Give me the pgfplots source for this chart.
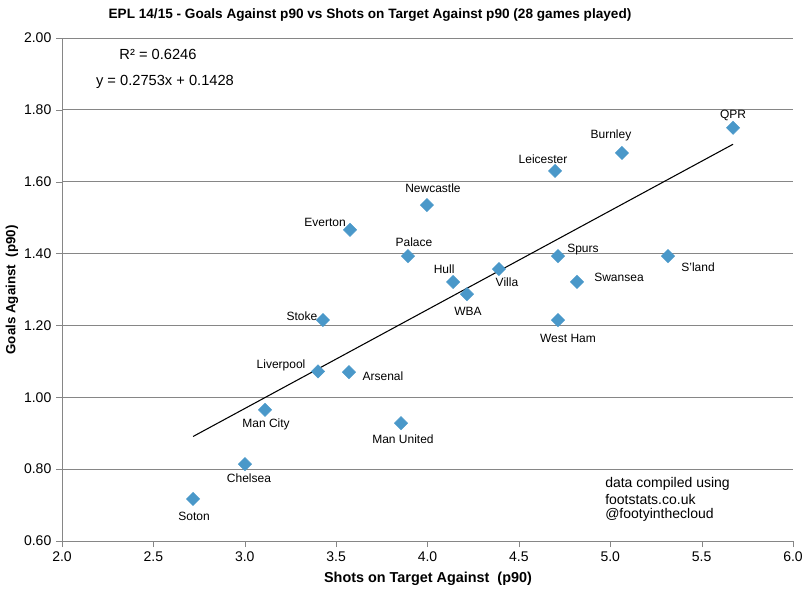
\documentclass[border=0pt]{standalone}
\usepackage{pgfplots}
\pgfplotsset{compat=1.18}
\usepackage{pgfplotstable}
\usepackage{fontspec}
\setmainfont{Liberation Sans}
\definecolor{mk}{RGB}{74,152,201}
\definecolor{gridc}{RGB}{134,134,134}

\pgfplotstableread[col sep=comma]{
x,y,label,dx,dy
5.672,1.750,QPR,0,9
5.064,1.680,Burnley,-8.25,13.5
4.698,1.630,Leicester,-9,9
3.997,1.535,Newcastle,4.5,12.75
3.576,1.466,Everton,-18.75,5.25
3.893,1.393,Palace,4.5,10.5
4.714,1.393,Spurs,18.75,5.25
5.316,1.393,S'land,22.5,-8.25
4.391,1.357,Villa,6,-9.75
4.140,1.321,Hull,-6.75,9.75
4.818,1.321,Swansea,31.5,3.75
4.216,1.287,WBA,0.75,-12.75
3.428,1.215,Stoke,-15.75,3
4.714,1.215,West Ham,7.5,-13.5
3.401,1.072,Liverpool,-27.75,4.5
3.570,1.070,Arsenal,25.5,-3
3.111,0.965,Man City,0.75,-11.25
3.855,0.928,Man United,1.5,-12
3.001,0.814,Chelsea,3,-10.5
2.717,0.717,Soton,0.75,-12.75
}\teams

\begin{document}
\begin{tikzpicture}
\useasboundingbox (0,0) rectangle (609pt,446.25pt);
\begin{axis}[
  at={(46.5pt,40.5pt)}, anchor=south west,
  scale only axis, width=548.25pt, height=377.25pt,
  xmin=2, xmax=6, ymin=0.6, ymax=2.0,
  xtick={2,2.5,...,6}, ytick={0.6,0.8,...,2.01},
  axis lines*=left,
  axis line style={-, draw=gridc},
  tick style={draw=gridc},
  tick align=outside, major tick length=4.5pt,
  ymajorgrids, grid style={draw=gridc, line width=0.6pt},
  xticklabel style={/pgf/number format/.cd, fixed, fixed zerofill, precision=1},
  yticklabel style={/pgf/number format/.cd, fixed, fixed zerofill, precision=2},
  /pgf/number format/assume math mode=true,
  tick label style={font=\fontsize{10.5}{12}\selectfont},
  clip=false,
]
\addplot[
  only marks, mark=square*, mark size=3.5pt,
  mark options={rotate=45, fill=mk, draw=mk},
  point meta=explicit symbolic,
  visualization depends on={\thisrow{dx}\as\dx},
  visualization depends on={\thisrow{dy}\as\dy},
  nodes near coords,
  nodes near coords style={anchor=center, xshift=\dx pt, yshift=\dy pt,
     font=\fontsize{9}{10}\selectfont, text=black, inner sep=0pt},
] table[x=x, y=y, meta=label] {\teams};
\addplot[black, line width=0.8pt, no marks] coordinates {(2.717,0.8908) (5.672,1.7043)};
\end{axis}
\node[font=\bfseries\fontsize{10.2}{12}\selectfont] at (277.5pt,435pt) {EPL 14/15 - Goals Against p90 vs Shots on Target Against p90 (28 games played)};
\node[font=\fontsize{11}{13}\selectfont] at (118.5pt,405.75pt) {R² = 0.6246};
\node[font=\fontsize{11}{13}\selectfont] at (123.75pt,384.75pt) {y = 0.2753x + 0.1428};
\node[font=\fontsize{10.5}{12}\selectfont, anchor=west, inner sep=0pt] at (453.75pt,83.25pt) {data compiled using};
\node[font=\fontsize{10.5}{12}\selectfont, anchor=west, inner sep=0pt] at (453.75pt,72pt) {footstats.co.uk};
\node[font=\fontsize{10.5}{12}\selectfont, anchor=west, inner sep=0pt] at (453.75pt,60pt) {@footyinthecloud};
\node[font=\bfseries\fontsize{10.8}{12}\selectfont] at (321pt,12pt) {Shots on Target Against\ \ (p90)};
\node[font=\bfseries\fontsize{10}{12}\selectfont, rotate=90] at (9pt,228.75pt) {Goals Against\ \ (p90)};
\end{tikzpicture}
\end{document}
